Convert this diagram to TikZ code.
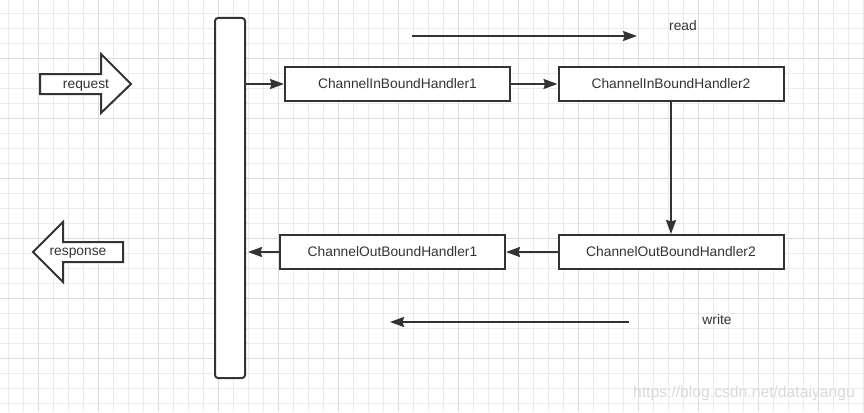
\documentclass[tikz,border=0pt]{standalone}
\usepackage{fontspec}
\setmainfont{Liberation Sans}
\usetikzlibrary{positioning,arrows.meta}

\definecolor{ink}{HTML}{333333}
\definecolor{gridminor}{HTML}{EBEBEB}
\definecolor{gridmajor}{HTML}{DCDCDC}

\tikzset{
  handler/.style={draw=ink, line width=2pt, minimum width=225pt,
    minimum height=34pt, inner sep=0pt, text=ink, fill=white,
    font=\fontsize{13.8}{16}\selectfont},
  lbl/.style={text=ink, inner sep=0pt, font=\fontsize{13.8}{16}\selectfont},
  flow/.style={draw=ink, line width=2pt,
    -{Stealth[length=14pt,width=10pt,inset=1.5pt]}},
  bigarrow/.style={draw=ink, line width=2pt, fill=white, line join=miter}
}

\begin{document}
\begin{tikzpicture}[x=1pt,y=-1pt]
  \useasboundingbox (0,0) rectangle (864,412);

  % grid
  \foreach \gx in {8,23,...,863}
    \draw[gridminor, line width=0.7pt] (\gx,0) -- (\gx,412);
  \foreach \gy in {13,28,...,403}
    \draw[gridminor, line width=0.7pt] (0,\gy) -- (864,\gy);
  \foreach \gx in {38,98,...,818}
    \draw[gridmajor, line width=0.9pt] (\gx,0) -- (\gx,412);
  \foreach \gy in {58,118,...,358}
    \draw[gridmajor, line width=0.9pt] (0,\gy) -- (864,\gy);

  % pipeline
  \node (pipe) [draw=ink, line width=2pt, rounded corners=3pt, fill=white,
    minimum width=30pt, minimum height=360pt] at (230,198) {};

  % handlers
  \node (in1) [handler] at (397.5,84) {ChannelInBoundHandler1};
  \node (in2) [handler] at (671,84) {ChannelInBoundHandler2};
  \node (out2) [handler] at (671,252) {ChannelOutBoundHandler2};
  \node (out1) [handler] at (392.5,252) {ChannelOutBoundHandler1};

  % request / response
  \draw[bigarrow] (40,74) -- (101,74) -- (101,54) -- (131,84)
    -- (101,113) -- (101,94) -- (40,94) -- cycle;
  \node (req) [lbl] at (86,85) {request};
  \draw[bigarrow] (123,242) -- (63,242) -- (63,222) -- (33,252)
    -- (63,282) -- (63,262) -- (123,262) -- cycle;
  \node (resp) [lbl] at (78,253) {response};

  \coordinate (pin) at (pipe.east |- in1);
  \coordinate (pout) at ([xshift=2pt]pipe.east |- out1);
  \draw[flow] (pin) -- (in1);
  \draw[flow] (in1) -- (in2);
  \draw[flow] (in2) -- (out2);
  \draw[flow] (out2) -- (out1);
  \draw[flow] (out1) -- (pout);

  % direction hints
  \coordinate (r0) at (412,36);
  \coordinate (r1) at (637,36);
  \coordinate (w0) at (629,322);
  \coordinate (w1) at (390,322);
  \draw[flow] (r0) -- (r1);
  \draw[flow] (w0) -- (w1);
  \node (readlbl) [lbl] at (683,26) {read};
  \node (writelbl) [lbl] at (717,320) {write};

  \node (mark) [anchor=east, inner sep=0pt, text=gray!30,
    font=\fontsize{15.7}{18}\selectfont] at (855,393)
    {https://blog.csdn.net/dataiyangu};
\end{tikzpicture}
\end{document}
